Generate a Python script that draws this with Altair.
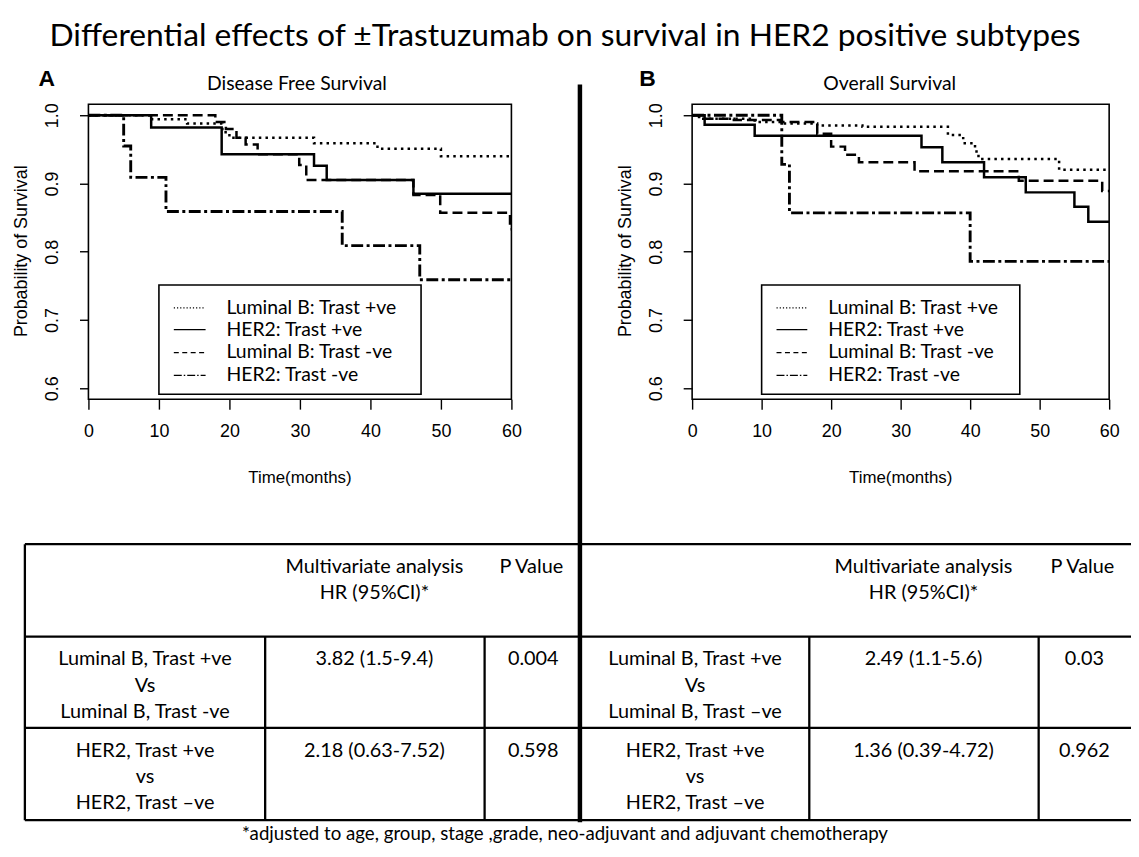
import altair as alt
import pandas as pd

# ---------------- data ----------------
SERIES = ["Luminal B: Trast +ve", "HER2: Trast +ve", "Luminal B: Trast -ve", "HER2: Trast -ve"]

# Panel A: Disease Free Survival (Kaplan-Meier steps)
dfs_lumb_pos_t = [0, 9, 14, 19, 20, 32, 41, 50, 60]
dfs_lumb_pos_s = [1.0, 0.994, 0.988, 0.975, 0.967, 0.959, 0.951, 0.940, 0.940]
dfs_her2_pos_t = [0, 8.9, 18.9, 32, 33.8, 46.1, 60]
dfs_her2_pos_s = [1.0, 0.982, 0.943, 0.926, 0.905, 0.885, 0.885]
dfs_lumb_neg_t = [0, 18, 19.5, 21, 22.3, 24, 29.9, 30.9, 46.1, 49.9, 59.8, 60]
dfs_lumb_neg_s = [1.0, 0.990, 0.980, 0.967, 0.957, 0.943, 0.927, 0.905, 0.883, 0.857, 0.833, 0.833]
dfs_her2_neg_t = [0, 5, 6, 11, 36, 47, 60]
dfs_her2_neg_s = [1.0, 0.955, 0.909, 0.859, 0.809, 0.759, 0.759]

# Panel B: Overall Survival
os_lumb_pos_t = [0, 1, 9, 13, 18, 24.5, 36.8, 39, 40.7, 41.2, 52.8, 60]
os_lumb_pos_s = [1.0, 0.995, 0.990, 0.988, 0.985, 0.983, 0.971, 0.959, 0.947, 0.936, 0.920, 0.920]
os_her2_pos_t = [0, 1.8, 9, 33, 36, 42, 48, 55, 57, 60]
os_her2_pos_s = [1.0, 0.986, 0.970, 0.953, 0.931, 0.909, 0.887, 0.866, 0.844, 0.844]
os_lumb_neg_t = [0, 1, 6, 12.8, 18, 20, 22, 24, 32, 47, 59, 60]
os_lumb_neg_s = [1.0, 0.995, 0.993, 0.990, 0.973, 0.954, 0.942, 0.931, 0.918, 0.904, 0.889, 0.889]
os_her2_neg_t = [0, 12.9, 14, 40, 60]
os_her2_neg_s = [1.0, 0.928, 0.857, 0.786, 0.786]

x_ticks = [0, 10, 20, 30, 40, 50, 60]
y_ticks = [0.6, 0.7, 0.8, 0.9, 1.0]

# table contents
hr_header = ["Multivariate analysis", "HR (95%CI)*"]
p_header = "P Value"
dfs_rows = [["Luminal B, Trast +ve", "Vs", "Luminal B, Trast -ve"],
            ["HER2, Trast +ve", "vs", "HER2, Trast \u2013ve"]]
dfs_hr = ["3.82 (1.5-9.4)", "2.18 (0.63-7.52)"]
dfs_p = ["0.004", "0.598"]
os_rows = [["Luminal B, Trast +ve", "Vs", "Luminal B, Trast \u2013ve"],
           ["HER2, Trast +ve", "vs", "HER2, Trast \u2013ve"]]
os_hr = ["2.49 (1.1-5.6)", "1.36 (0.39-4.72)"]
os_p = ["0.03", "0.962"]

TITLE = "Differential effects of \u00b1Trastuzumab on survival in HER2 positive subtypes"
FOOTNOTE = "*adjusted to age, group, stage ,grade, neo-adjuvant and adjuvant chemotherapy"

# ---------------- layout (page pixels) ----------------
W, H = 1131, 841
OFF = 8


def px(v):
    return v - OFF


SANS = "Liberation Sans"
CAL = "Lato"
Y_TOP, Y_BOT = 102, 399
PANELS = [
    dict(key="A", x0=89, x1=515, title="Disease Free Survival", title_x=299, letter_x=47,
         legend=(160, 424), sample=(175, 207), text_x=228,
         curves=[(dfs_lumb_pos_t, dfs_lumb_pos_s), (dfs_her2_pos_t, dfs_her2_pos_s),
                 (dfs_lumb_neg_t, dfs_lumb_neg_s), (dfs_her2_neg_t, dfs_her2_neg_s)]),
    dict(key="B", x0=697, x1=1117, title="Overall Survival", title_x=896, letter_x=652,
         legend=(767, 1027), sample=(782, 813), text_x=834,
         curves=[(os_lumb_pos_t, os_lumb_pos_s), (os_her2_pos_t, os_her2_pos_s),
                 (os_lumb_neg_t, os_lumb_neg_s), (os_her2_neg_t, os_her2_neg_s)]),
]
CURVE_DASH = [[2.5, 4.2], [1, 0], [10, 5], [12, 3.5, 3, 3.5]]
CURVE_W = [2.5, 2.5, 2.5, 2.9]
LEG_DASH = [[1.2, 2], [1, 0], [5, 3.5], [8, 2, 1.5, 2]]
LEG_ROWS = [307, 329, 352, 375]
LEG_TOP, LEG_BOT = 284, 394

one = pd.DataFrame({"a": [0]})
layers = []


def text_at(txt, x, y, font=CAL, size=18, weight="normal", angle=0, align="center"):
    return alt.Chart(one).mark_text(text=txt, font=font, fontSize=size, fontWeight=weight,
                                    angle=angle, align=align, baseline="middle",
                                    color="black").encode(x=alt.value(px(x)), y=alt.value(px(y)))


# main title
layers.append(text_at(TITLE, 569, 33, size=32))

for p in PANELS:
    xs = alt.Scale(domain=[0, 60], range=[px(p["x0"]), px(p["x1"])], nice=False, zero=False)
    ys = alt.Scale(domain=[0.584, 1.016], range=[px(Y_BOT), px(Y_TOP)], nice=False, zero=False)
    # box with axes
    box = pd.DataFrame({"t0": [0], "t1": [60], "s0": [0.584], "s1": [1.016]})
    xaxis = alt.Axis(orient="bottom", offset=px(Y_BOT) - H, values=x_ticks, format="d",
                     domain=False, grid=False, tickSize=10, tickWidth=1.4, tickColor="black",
                     labelFont=SANS, labelFontSize=18, labelColor="black", labelPadding=14,
                     labelFlush=False, labelOverlap=False, title=None)
    yaxis = alt.Axis(orient="left", offset=-px(p["x0"]), values=y_ticks, format=".1f",
                     domain=False, grid=False, tickSize=9, tickWidth=1.4, tickColor="black",
                     labelFont=SANS, labelFontSize=18, labelColor="black", labelPadding=18,
                     labelAngle=270, labelAlign="center", labelBaseline="bottom",
                     labelFlush=False, labelOverlap=False, title=None)
    layers.append(alt.Chart(box).mark_rect(fillOpacity=0, stroke="black", strokeWidth=1.6).encode(
        x=alt.X("t0:Q", scale=xs, axis=xaxis), x2="t1:Q",
        y=alt.Y("s0:Q", scale=ys, axis=yaxis), y2="s1:Q"))
    # curves
    for i, (tt, ss) in enumerate(p["curves"]):
        df = pd.DataFrame({"t": tt, "s": ss})
        layers.append(alt.Chart(df).mark_line(interpolate="step-after", color="black",
                                              strokeWidth=CURVE_W[i], strokeDash=CURVE_DASH[i],
                                              strokeCap="butt").encode(
            x=alt.X("t:Q", scale=xs, axis=None), y=alt.Y("s:Q", scale=ys, axis=None)))
    # legend
    lx0, lx1 = p["legend"]
    layers.append(alt.Chart(one).mark_rect(fill="white", stroke="black", strokeWidth=1.6).encode(
        x=alt.value(px(lx0)), x2=alt.value(px(lx1)), y=alt.value(px(LEG_TOP)), y2=alt.value(px(LEG_BOT))))
    sx0, sx1 = p["sample"]
    for i, name in enumerate(SERIES):
        layers.append(alt.Chart(one).mark_rule(color="black", strokeWidth=1.2, strokeDash=LEG_DASH[i]).encode(
            x=alt.value(px(sx0)), x2=alt.value(px(sx1)), y=alt.value(px(LEG_ROWS[i]))))
        layers.append(text_at(name, p["text_x"], LEG_ROWS[i], size=19.5, align="left"))
    # panel texts
    layers.append(text_at(p["title"], p["title_x"], 82, size=19.5))
    layers.append(text_at(p["key"], p["letter_x"], 77, font=SANS, size=23, weight="bold"))
    layers.append(text_at("Probability of Survival", p["x0"] - 67, 250, font=SANS, size=18, angle=270))
    layers.append(text_at("Time(months)", (p["x0"] + p["x1"]) / 2, 478, font=SANS, size=17))

# divider
layers.append(alt.Chart(one).mark_rule(color="black", strokeWidth=4.5).encode(
    x=alt.value(px(584)), y=alt.value(px(82)), y2=alt.value(px(825))))

# table grid
T_TOP, T_HEAD, T_ROW1, T_BOT = 545, 638, 730, 823
T_LEFT, T_RIGHT = 25, 1139
idx = alt.Scale(domain=[0, W], range=[0, W])
idy = alt.Scale(domain=[0, H], range=[0, H])
seg = []
for yy in [T_TOP, T_HEAD, T_ROW1, T_BOT]:
    seg.append((T_LEFT, T_RIGHT, yy, yy))
seg.append((T_LEFT, T_LEFT, T_TOP, T_BOT))
for xx in [267, 488, 815, 1046]:
    seg.append((xx, xx, T_HEAD, T_BOT))
grid = pd.DataFrame([dict(x=px(a), x2=px(b), y=px(c), y2=px(d)) for a, b, c, d in seg])
layers.append(alt.Chart(grid).mark_rule(color="black", strokeWidth=2.3).encode(
    x=alt.X("x:Q", scale=idx, axis=None), x2="x2:Q",
    y=alt.Y("y:Q", scale=idy, axis=None), y2="y2:Q"))

# table text
cells = []
COLS = [(146, 377, 537, dfs_rows, dfs_hr, dfs_p), (700, 930, 1092, os_rows, os_hr, os_p)]
ROW_Y = [[661, 687.5, 714], [753, 780, 806]]
for c1, c2, c3, rows, hrs, ps in COLS:
    cells.append((hr_header[0], c2, 568))
    cells.append((hr_header[1], c2, 594))
    cells.append((p_header, c3 - 2, 568))
    for r in range(2):
        for k in range(3):
            cells.append((rows[r][k], c1, ROW_Y[r][k]))
        cells.append((hrs[r], c2, ROW_Y[r][0]))
        cells.append((ps[r], c3, ROW_Y[r][0]))
cells_df = pd.DataFrame([dict(txt=a, x=px(b), y=px(c)) for a, b, c in cells])
layers.append(alt.Chart(cells_df).mark_text(font=CAL, fontSize=20, baseline="middle", align="center",
                                            color="black").encode(
    x=alt.X("x:Q", scale=idx, axis=None), y=alt.Y("y:Q", scale=idy, axis=None), text="txt:N"))

layers.append(text_at(FOOTNOTE, 569, 837, size=18.8))

chart = alt.layer(*layers).resolve_scale(x="independent", y="independent").properties(
    width=W, height=H, padding=0, autosize=alt.AutoSizeParams(type="none")
).configure_view(stroke=None)

chart.save("out.html", embed_options={"renderer": "svg", "actions": False})
